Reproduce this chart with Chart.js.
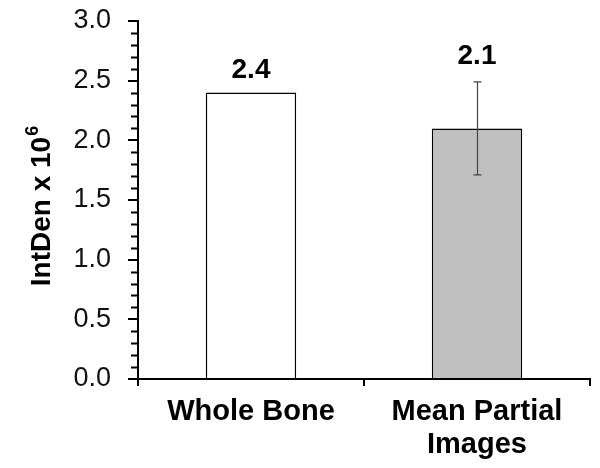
<!DOCTYPE html>
<html lang="en">
<head>
    <meta charset="UTF-8">
    <title>IntDen bar chart</title>
    <script src="https://cdn.jsdelivr.net/npm/chart.js"></script>
    <style>
        html, body { margin: 0; padding: 0; background: #fff; }
        #wrap { width: 600px; height: 468px; }
    </style>
</head>
<body>
    <div id="wrap"><canvas id="barChart" width="600" height="468"></canvas></div>
    <script>
        // chart data
        const categories = ['Whole Bone', ['Mean Partial', 'Images']];
        const means = [2.4, 2.1];
        const errors = [0, 0.39];
        const barColors = ['#ffffff', '#c0c0c0'];
        const yTitle = 'IntDen x 10';
        const yTitleSup = '6';

        const FONT = "'Liberation Sans', Arial, sans-serif";

        // minor ticks, error bars, value labels and the y title (with superscript)
        const extras = {
            id: 'extras',
            afterDatasetsDraw(chart) {
                const ctx = chart.ctx;
                const y = chart.scales.y;
                const meta = chart.getDatasetMeta(0);
                const left = chart.chartArea.left;
                ctx.save();

                // minor ticks every 0.1
                ctx.strokeStyle = '#000';
                ctx.lineWidth = 2;
                for (let i = 0; i <= 30; i++) {
                    if (i % 5 === 0) continue;
                    const py = Math.round(y.getPixelForValue(i / 10)) + 0.5;
                    ctx.beginPath();
                    ctx.moveTo(left - 7, py);
                    ctx.lineTo(left, py);
                    ctx.stroke();
                }

                // error bars
                ctx.strokeStyle = '#444';
                ctx.lineWidth = 1.2;
                meta.data.forEach((bar, i) => {
                    if (!errors[i]) return;
                    const x = Math.round(bar.x) + 0.5;
                    const top = y.getPixelForValue(means[i] + errors[i]);
                    const bot = y.getPixelForValue(means[i] - errors[i]);
                    ctx.beginPath();
                    ctx.moveTo(x, top);
                    ctx.lineTo(x, bot);
                    ctx.moveTo(x - 4, top);
                    ctx.lineTo(x + 4, top);
                    ctx.moveTo(x - 4, bot);
                    ctx.lineTo(x + 4, bot);
                    ctx.stroke();
                });

                // value labels
                ctx.fillStyle = '#000';
                ctx.font = 'bold 28px ' + FONT;
                ctx.textAlign = 'center';
                ctx.textBaseline = 'middle';
                meta.data.forEach((bar, i) => {
                    const py = y.getPixelForValue(means[i] + errors[i]) - (errors[i] ? 26 : 22);
                    ctx.fillText(means[i].toFixed(1), bar.x, py);
                });

                // y axis title
                ctx.translate(42, 206);
                ctx.rotate(-Math.PI / 2);
                ctx.font = 'bold 28px ' + FONT;
                const wMain = ctx.measureText(yTitle).width;
                ctx.font = 'bold 18px ' + FONT;
                const wSup = ctx.measureText(yTitleSup).width;
                const start = -(wMain + wSup + 1) / 2;
                ctx.textAlign = 'left';
                ctx.font = 'bold 28px ' + FONT;
                ctx.fillText(yTitle, start, 0);
                ctx.font = 'bold 18px ' + FONT;
                ctx.fillText(yTitleSup, start + wMain + 1, -9);

                ctx.restore();
            }
        };

        const ctx = document.getElementById('barChart').getContext('2d');
        new Chart(ctx, {
            type: 'bar',
            data: {
                labels: categories,
                datasets: [{
                    data: means,
                    backgroundColor: barColors,
                    borderColor: '#000',
                    borderWidth: 1.5,
                    barPercentage: 0.4,
                    categoryPercentage: 1
                }]
            },
            options: {
                responsive: false,
                animation: false,
                layout: { padding: { top: 21, right: 10, left: 0, bottom: 0 } },
                plugins: {
                    legend: { display: false },
                    tooltip: { enabled: false }
                },
                scales: {
                    x: {
                        afterFit: (s) => { s.height = 89; s.paddingLeft = 0; s.paddingRight = 0; },
                        border: { color: '#000', width: 2 },
                        grid: {
                            offset: true,
                            drawOnChartArea: false,
                            tickLength: 7,
                            color: '#000',
                            lineWidth: 2
                        },
                        ticks: {
                            color: '#000',
                            padding: 9,
                            maxRotation: 0,
                            font: { family: FONT, size: 29, weight: 'bold', lineHeight: 1.15 }
                        }
                    },
                    y: {
                        min: 0,
                        max: 3,
                        afterFit: (s) => { s.width = 138; s.paddingTop = 0; s.paddingBottom = 0; },
                        border: { color: '#000', width: 2 },
                        grid: {
                            drawOnChartArea: false,
                            tickLength: 10,
                            color: '#000',
                            lineWidth: 2
                        },
                        ticks: {
                            stepSize: 0.5,
                            color: '#111',
                            padding: 17,
                            callback: (v) => v.toFixed(1),
                            font: { family: FONT, size: 27 }
                        }
                    }
                }
            },
            plugins: [extras]
        });
    </script>
</body>
</html>
